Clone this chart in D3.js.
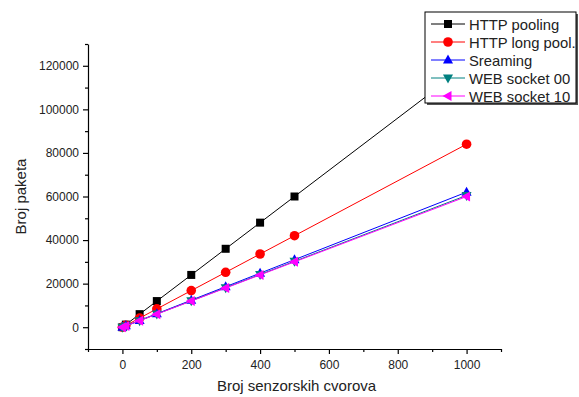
<!DOCTYPE html>
<html>
<head>
<meta charset="utf-8">
<script src="https://cdn.jsdelivr.net/npm/d3@7"></script>
<style>
  body { margin: 0; background: #fff; }
  text { font-family: Arial, "Liberation Sans", sans-serif; fill: #222; }
</style>
</head>
<body>
<div id="viz"></div>
<script>
// node counts on the x axis
const nodes = [0, 10, 50, 100, 200, 300, 400, 500, 1000];

// packet counts per series
const httpPooling = [0, 1200, 6000, 12000, 24000, 36000, 48000, 60000, 120000];
const httpLongPool = [0, 840, 4200, 8400, 16800, 25200, 33600, 42000, 84000];
const sreaming = [0, 620, 3100, 6200, 12400, 18600, 24800, 31000, 62000];
const webSocket00 = [0, 605, 3020, 6050, 12100, 18150, 24200, 30250, 60500];
const webSocket10 = [0, 600, 3000, 6000, 12000, 18000, 24000, 30000, 60000];

const seriesNames = ["HTTP pooling", "HTTP long pool.", "Sreaming", "WEB socket 00", "WEB socket 10"];
const xTicks = [0, 200, 400, 600, 800, 1000];
const yTicks = [0, 20000, 40000, 60000, 80000, 100000, 120000];

const series = [
  {name: seriesNames[0], values: httpPooling, color: "#000000", sym: "square"},
  {name: seriesNames[1], values: httpLongPool, color: "#ff0000", sym: "circle"},
  {name: seriesNames[2], values: sreaming, color: "#0000ff", sym: "up"},
  {name: seriesNames[3], values: webSocket00, color: "#008080", sym: "down"},
  {name: seriesNames[4], values: webSocket10, color: "#ff00ff", sym: "left"}
];

const width = 579, height = 397;
const margin = {top: 44, right: 78, bottom: 48, left: 88};

const svg = d3.select("#viz").append("svg")
  .attr("width", width)
  .attr("height", height);

const x = d3.scaleLinear()
  .domain([-100, 1100])
  .range([margin.left, width - margin.right]);

const y = d3.scaleLinear()
  .domain([-10000, 130000])
  .range([height - margin.bottom, margin.top]);

// draw a marker shape centred on 0,0
function marker(g, sym, color) {
  if (sym === "square") {
    g.append("rect").attr("x", -4).attr("y", -4).attr("width", 8).attr("height", 8).attr("fill", color);
  } else if (sym === "circle") {
    g.append("circle").attr("r", 4.8).attr("fill", color);
  } else {
    const pts = {
      up: "0,-5.5 5,3.5 -5,3.5",
      down: "0,5.5 5,-3.5 -5,-3.5",
      left: "-5.5,0 3.5,-5 3.5,5"
    }[sym];
    g.append("polygon").attr("points", pts).attr("fill", color);
  }
}

const line = d3.line()
  .x((d, i) => x(nodes[i]))
  .y(d => y(d));

series.forEach(s => {
  svg.append("path")
    .attr("d", line(s.values))
    .attr("fill", "none")
    .attr("stroke", s.color)
    .attr("stroke-width", 1);
  s.values.forEach((v, i) => {
    const g = svg.append("g").attr("transform", `translate(${x(nodes[i])},${y(v)})`);
    marker(g, s.sym, s.color);
  });
});

// axes
svg.append("g")
  .attr("transform", `translate(0,${height - margin.bottom})`)
  .call(d3.axisBottom(x).tickValues(xTicks).tickSize(5).tickSizeOuter(0).tickPadding(6).tickFormat(d3.format("d")));
svg.append("g")
  .attr("transform", `translate(0,${height - margin.bottom})`)
  .call(d3.axisBottom(x).tickValues(d3.range(-100, 1101, 200)).tickSize(3).tickSizeOuter(0).tickFormat(""))
  .call(g => g.select(".domain").remove());

svg.append("g")
  .attr("transform", `translate(${margin.left},0)`)
  .call(d3.axisLeft(y).tickValues(yTicks).tickSize(5).tickSizeOuter(0).tickPadding(4).tickFormat(d3.format("d")));
svg.append("g")
  .attr("transform", `translate(${margin.left},0)`)
  .call(d3.axisLeft(y).tickValues(d3.range(-10000, 130001, 20000)).tickSize(3).tickSizeOuter(0).tickFormat(""))
  .call(g => g.select(".domain").remove());

svg.selectAll(".tick text").style("font-size", "12px").style("font-family", "Arial, 'Liberation Sans', sans-serif").attr("fill", "#222");
svg.selectAll(".domain, .tick line").attr("stroke", "#000").attr("stroke-width", 1.2);

svg.append("text")
  .attr("x", (margin.left + width - margin.right) / 2 + 2)
  .attr("y", 391)
  .attr("text-anchor", "middle")
  .style("font-size", "15px")
  .text("Broj senzorskih cvorova");

svg.append("text")
  .attr("transform", `translate(26,${(margin.top + height - margin.bottom) / 2}) rotate(-90)`)
  .attr("text-anchor", "middle")
  .style("font-size", "15px")
  .text("Broj paketa");

// legend
const lg = svg.append("g").attr("transform", "translate(425,12)");
lg.append("rect").attr("x", 2).attr("y", 2).attr("width", 151).attr("height", 91).attr("fill", "#555");
lg.append("rect").attr("x", 0).attr("y", 0).attr("width", 151).attr("height", 91)
  .attr("fill", "#fff").attr("stroke", "#000").attr("stroke-width", 1);
series.forEach((s, i) => {
  const yy = 12 + i * 18;
  lg.append("line").attr("x1", 6).attr("x2", 40).attr("y1", yy).attr("y2", yy)
    .attr("stroke", s.color).attr("stroke-width", 1);
  marker(lg.append("g").attr("transform", `translate(23,${yy})`), s.sym, s.color);
  lg.append("text").attr("x", 44).attr("y", yy + 5.5).style("font-size", "14.8px").text(s.name);
});
</script>
</body>
</html>
